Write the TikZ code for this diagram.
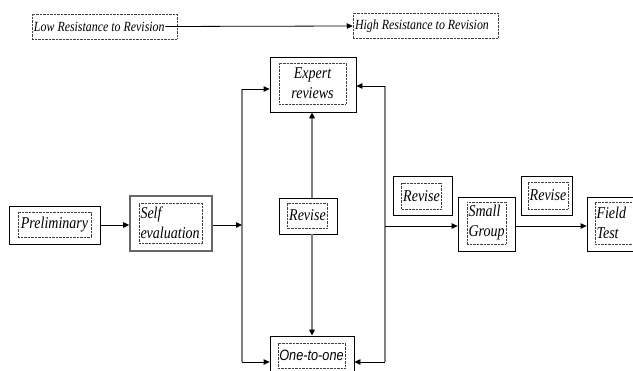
\documentclass[tikz,border=0pt]{standalone}
\usepackage{fontspec}
\setmainfont{Liberation Serif}
\newfontfamily\serifit[FakeStretch=0.85]{Liberation Serif}
\newfontfamily\sansit[FakeStretch=0.85]{Liberation Sans}
\usetikzlibrary{arrows.meta}
\newcommand{\toptext}[1]{\spaceskip=3pt\relax\mbox{#1}}
\begin{document}
\begin{tikzpicture}[x=1pt,y=-1pt,
  obox/.style={draw=black,line width=0.8pt,inner sep=0pt},
  sbox/.style={draw=black!60,line width=1.6pt,inner sep=0pt},
  dbox/.style={draw=black!75,line width=0.5pt,dash pattern=on 0.7pt off 0.7pt,inner sep=1.5pt,
    font=\serifit\itshape\fontsize{16.5}{20}\selectfont},
  tbox/.style={draw=black!75,line width=0.5pt,dash pattern=on 0.7pt off 0.7pt,inner sep=1pt,
    font=\serifit\itshape\fontsize{14}{16}\selectfont},
  arr/.style={draw=black,line width=0.8pt,-{Triangle[length=6pt,width=5.5pt]}},
  vline/.style={draw=black!50,line width=1.4pt},
  garr/.style={draw=black!50,line width=1.4pt,-{Triangle[length=6pt,width=5.5pt,color=black]}}
]
\path[use as bounding box] (0,0) rectangle (633,371);
\clip (0,0) rectangle (633,371);

% top scale
\node[tbox,minimum width=145,minimum height=25,text width=141,align=left] (low) at (104.5,26.5) {\toptext{Low Resistance to Revision}};
\node[tbox,minimum width=145,minimum height=25,text width=141,align=left] (high) at (425.5,26) {\toptext{High Resistance to Revision}};
\draw[arr] ([xshift=-12pt]low.east) -- (high.west);

% boxes
\node[obox,minimum width=91,minimum height=38] (pre) at (54.5,225) {};
\node[dbox,minimum width=73,minimum height=25] (pret) at (54.5,224.5) {Preliminary};

\node[sbox,minimum width=82,minimum height=55] (self) at (171,223.5) {};
\node[dbox,minimum width=63,minimum height=40,text width=60,align=left] (selft) at (170.5,223) {Self\\evaluation};

\node[obox,minimum width=86,minimum height=55] (expert) at (313,84.5) {};
\node[dbox,minimum width=67,minimum height=41,align=center] (expertt) at (312.5,83.5) {Expert\\reviews};

\node[obox,minimum width=58,minimum height=36] (revm) at (308,216) {};
\node[dbox,minimum width=39,minimum height=25] (revmt) at (307.5,215.5) {Revise};

\node[obox,minimum width=84,minimum height=40] (one) at (312,356) {};
\node[dbox,minimum width=67,minimum height=25,font=\sansit\itshape\fontsize{15}{16}\selectfont] (onet) at (311.5,355.5) {One-to-one};

\node[obox,minimum width=59,minimum height=39] (rev1) at (422.5,196) {};
\node[dbox,minimum width=39,minimum height=26] (rev1t) at (421.5,196) {Revise};

\node[obox,minimum width=57,minimum height=54] (small) at (486.5,224) {};
\node[dbox,minimum width=39,minimum height=42,text width=36,align=left] (smallt) at (486.5,223) {Small\\Group};

\node[obox,minimum width=51,minimum height=39] (rev2) at (546.5,196) {};
\node[dbox,minimum width=40,minimum height=27] (rev2t) at (548,195.5) {Revise};

\node[obox,minimum width=58,minimum height=54] (field) at (616,224) {};
\node[dbox,minimum width=45,minimum height=42,text width=42,align=left] (fieldt) at (617.5,223) {Field\\Test};

% connectors
\coordinate (L1) at (242,89);
\coordinate (L2) at (242,362);
\coordinate (R1) at (385,86);
\coordinate (R2) at (385,362);
\coordinate (LS) at (242,225);
\coordinate (RS) at (385,226);
\coordinate (M) at (312,0);

\draw[vline] (L1) -- (L2);
\draw[vline] (R1) -- (R2);
\draw[arr] (pre.east) -- (pre.east -| self.west);
\draw[arr] (self.east |- LS) -- (LS);
\draw[arr] (L1) -- (L1 -| expert.west);
\draw[arr] (L2) -- (L2 -| one.west);
\draw[arr] (R1) -- (R1 -| expert.east);
\draw[arr] (R2) -- (R2 -| one.east);
\draw[garr] (M |- revm.north) -- (M |- expert.south);
\draw[garr] (M |- revm.south) -- (M |- one.north);
\draw[arr] (RS) -- (RS -| small.west);
\draw[arr] (small.east |- RS) -- (field.west |- RS);
\end{tikzpicture}
\end{document}
